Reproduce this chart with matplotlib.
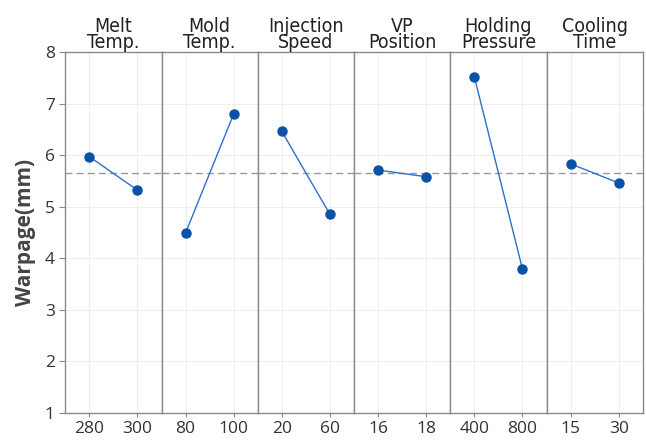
import matplotlib
matplotlib.use('Agg')
import matplotlib.pyplot as plt

# factors, levels and mean warpage per level
factores = ['Melt\nTemp.', 'Mold\nTemp.', 'Injection\nSpeed', 'VP\nPosition', 'Holding\nPressure', 'Cooling\nTime']
niveis = [['280', '300'], ['80', '100'], ['20', '60'], ['16', '18'], ['400', '800'], ['15', '30']]
warpage = [[5.97, 5.32], [4.49, 6.80], [6.46, 4.85], [5.71, 5.58], [7.52, 3.79], [5.83, 5.46]]
media = 5.65

cor_linha = '#2f6fcf'
cor_ponto = '#0a52a8'
cor_borda = '#8a8a8a'

fig, axes = plt.subplots(1, 6, sharey=True, figsize=(6.46, 4.41), dpi=100)
fig.subplots_adjust(left=0.101, right=0.995, top=0.882, bottom=0.064, wspace=0)

for i, ax in enumerate(axes):
    x = list(range(len(niveis[i])))
    ax.axhline(media, color='#9a9a9a', lw=1, ls=(0, (5, 3)), zorder=1)
    ax.plot(x, warpage[i], color=cor_linha, lw=1, zorder=2)
    ax.plot(x, warpage[i], 'o', color=cor_ponto, ms=6.5, zorder=3)
    ax.set_xlim(-0.5, 1.5)
    ax.set_ylim(1, 8)
    ax.set_xticks(x)
    ax.set_xticklabels(niveis[i], fontsize=12.5, color='#333333', family=['Open Sans', 'DejaVu Sans'])
    ax.grid(True, color='#eeeeee', lw=0.8)
    ax.set_axisbelow(True)
    for s in ax.spines.values():
        s.set_color(cor_borda)
        s.set_linewidth(1)
    ax.tick_params(axis='x', length=3, color=cor_borda, pad=3)
    ax.tick_params(axis='y', length=4 if i == 0 else 0, color=cor_borda, labelsize=12.5, labelcolor='#333333')
    ax.set_title(factores[i], fontsize=14, linespacing=0.8, pad=3,
                 family='DejaVu Sans', fontstretch='condensed', color='#222222')

for lbl in axes[0].get_yticklabels():
    lbl.set_family(['Open Sans', 'DejaVu Sans'])
axes[0].set_ylabel('Warpage(mm)', fontsize=15, fontweight='bold', color='#444444', labelpad=6,
                   family=['Open Sans', 'DejaVu Sans'])

plt.savefig('out.png', dpi=100)
